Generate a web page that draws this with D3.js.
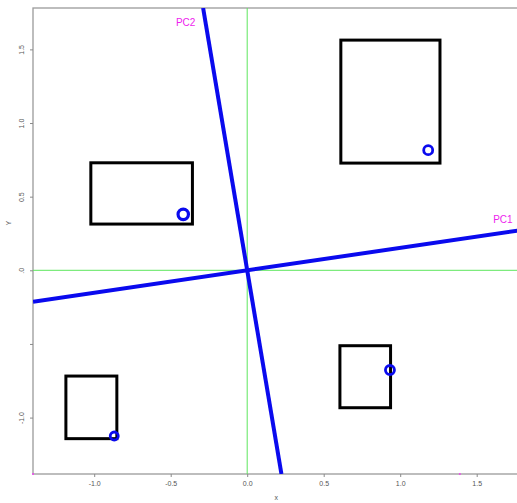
<!DOCTYPE html>
<html>
<head>
<meta charset="utf-8">
<script src="https://cdn.jsdelivr.net/npm/d3@7"></script>
<style>
  body { margin: 0; background: #fff; }
  text { font-family: "Liberation Sans", Arial, sans-serif; }
</style>
</head>
<body>
<svg id="chart" width="517" height="503"></svg>
<script>
// Group boxes: extent in x and y
const boxXMin = [0.612, -1.022, -1.185, 0.606];
const boxXMax = [1.260, -0.358, -0.852, 0.937];
const boxYMin = [0.728, 0.314, -1.143, -0.933];
const boxYMax = [1.563, 0.730, -0.718, -0.512];

// Group centres
const ptX = [1.183, -0.418, -0.869, 0.933];
const ptY = [0.816, 0.380, -1.125, -0.677];
const ptR = [4.5, 5.2, 4.0, 4.5];
const ptW = [2.8, 3.2, 2.8, 2.8];

// Principal component directions (slopes through the origin)
const pcNames = ["PC1", "PC2"];
const pcSlopes = [0.1524, -6.18];
const pcLabelX = [1.671, -0.402];
const pcLabelY = [0.346, 1.683];

// Axis ticks
const xTicks = [-1.0, -0.5, 0.0, 0.5, 1.0, 1.5];
const xTickLabels = ["-1.0", "-0.5", "0.0", "0.5", "1.0", "1.5"];
const yTicks = [-1.0, -0.5, 0.0, 0.5, 1.0, 1.5];
const yTickLabels = ["-1.0", "", ".0", "0.5", "1.0", "1.5"];

const svg = d3.select("#chart");
const mLeft = 33, mTop = 8, mBottom = 474, mRight = 522.6;

const x = d3.scaleLinear().domain([-1.4, 1.8]).range([mLeft, mRight]);
const y = d3.scaleLinear().domain([-1.383, 1.781]).range([mBottom, mTop]);

svg.append("defs").append("clipPath").attr("id", "plot")
  .append("rect").attr("x", mLeft).attr("y", mTop)
  .attr("width", mRight - mLeft).attr("height", mBottom - mTop);

// Frame
svg.append("rect").attr("x", mLeft).attr("y", mTop)
  .attr("width", mRight - mLeft).attr("height", mBottom - mTop)
  .attr("fill", "none").attr("stroke", "#9a9a9a").attr("stroke-width", 1.3);

const font = "'Liberation Sans', Arial, sans-serif";

// Axes
const xAxis = d3.axisBottom(x).tickValues(xTicks)
  .tickFormat((d, i) => xTickLabels[i]).tickSize(3).tickPadding(4);
const gx = svg.append("g").attr("transform", `translate(0,${mBottom})`).call(xAxis);
gx.select(".domain").remove();
gx.selectAll("line").attr("stroke", "#8a8a8a");
gx.selectAll("text").attr("font-size", 7).attr("fill", "#555").style("font-family", font);

const yAxis = d3.axisLeft(y).tickValues(yTicks)
  .tickFormat((d, i) => yTickLabels[i]).tickSize(3).tickPadding(0);
const gy = svg.append("g").attr("transform", `translate(${mLeft},0)`).call(yAxis);
gy.select(".domain").remove();
gy.selectAll("line").attr("stroke", "#8a8a8a");
gy.selectAll("text")
  .attr("x", 0).attr("y", 0).attr("dy", null)
  .attr("text-anchor", "middle")
  .attr("transform", "translate(-9,0) rotate(-90)")
  .attr("font-size", 7).attr("fill", "#555").style("font-family", font);

// Axis titles
svg.append("text").attr("x", x(0.19)).attr("y", 500)
  .attr("text-anchor", "middle").attr("font-size", 7).attr("fill", "#555").text("x");
svg.append("text").attr("transform", `translate(11,${y(0.32)}) rotate(-90)`)
  .attr("text-anchor", "middle").attr("font-size", 7).attr("fill", "#555").text("Y");

const plot = svg.append("g").attr("clip-path", "url(#plot)");

// Reference axes through zero
plot.append("line").attr("x1", x(0)).attr("x2", x(0)).attr("y1", mTop).attr("y2", mBottom)
  .attr("stroke", "#5de65d").attr("stroke-width", 1);
plot.append("line").attr("x1", mLeft).attr("x2", mRight).attr("y1", y(0)).attr("y2", y(0))
  .attr("stroke", "#5de65d").attr("stroke-width", 1);

// Boxes
plot.selectAll("rect.box").data(boxXMin).join("rect").attr("class", "box")
  .attr("x", (d, i) => x(boxXMin[i]))
  .attr("y", (d, i) => y(boxYMax[i]))
  .attr("width", (d, i) => x(boxXMax[i]) - x(boxXMin[i]))
  .attr("height", (d, i) => y(boxYMin[i]) - y(boxYMax[i]))
  .attr("fill", "none").attr("stroke", "#000").attr("stroke-width", 3);

// PC lines through the origin
const xd = x.domain(), yd = y.domain();
pcSlopes.forEach(s => {
  const x0 = Math.abs(s) > 1 ? yd[0] / s : xd[0];
  const x1 = Math.abs(s) > 1 ? yd[1] / s : xd[1];
  plot.append("line")
    .attr("x1", x(x0)).attr("y1", y(s * x0))
    .attr("x2", x(x1)).attr("y2", y(s * x1))
    .attr("stroke", "#0a0aee").attr("stroke-width", 4);
});

// Group centres
plot.selectAll("circle.pt").data(ptX).join("circle").attr("class", "pt")
  .attr("cx", (d, i) => x(ptX[i])).attr("cy", (d, i) => y(ptY[i]))
  .attr("r", (d, i) => ptR[i])
  .attr("fill", "none").attr("stroke", "#0a0aee").attr("stroke-width", (d, i) => ptW[i]);

// PC labels
svg.selectAll("text.pc").data(pcNames).join("text").attr("class", "pc")
  .attr("x", (d, i) => x(pcLabelX[i])).attr("y", (d, i) => y(pcLabelY[i]) + 3.5)
  .attr("text-anchor", "middle").attr("font-size", 10).attr("fill", "#ee22ee")
  .text(d => d);

// Small marks on the frame
const markX = [-1.4, 1.39];
const markY = [-1.383, -1.383];
svg.selectAll("circle.mark").data(markX).join("circle").attr("class", "mark")
  .attr("cx", (d, i) => x(markX[i])).attr("cy", (d, i) => y(markY[i]))
  .attr("r", 1).attr("fill", "#ee44ee");
</script>
</body>
</html>
